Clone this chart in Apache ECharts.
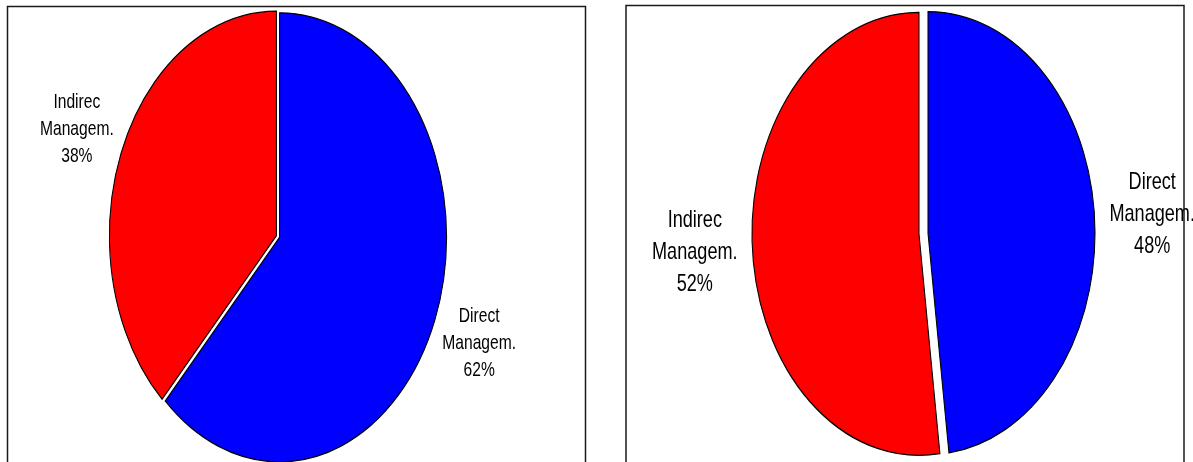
<!DOCTYPE html>
<html>
<head>
<meta charset="utf-8">
<title>Management split</title>
<script src="https://cdn.jsdelivr.net/npm/echarts@6/dist/echarts.min.js"></script>
<style>
  html, body { margin: 0; padding: 0; background: #ffffff; }
  #chart { width: 1193px; height: 462px; }
</style>
</head>
<body>
<div id="chart"></div>
<script>
// Categories shared by both pies
const categories = ['Direct Managem.', 'Indirec Managem.'];
// Shares (%) for the left and right pies, in category order
const leftShares = [62, 38];
const rightShares = [48, 52];

// Slice colours per category
const sliceColors = ['#0000FF', '#FF0000'];

// Layout of each pie: centre, vertical radius, horizontal squeeze,
// slice pull-out, label distance (in radii) and label font
const leftLayout = { cx: 278, cy: 236.5, r: 224.5, sx: 0.744, explode: 2.3, labelDist: 1.285, fontSize: 21, lineHeight: 27 };
const rightLayout = { cx: 923.5, cy: 233.5, r: 221.5, sx: 0.754, explode: 6.0, labelDist: 1.345, fontSize: 24, lineHeight: 32 };

// Builds an oval pie: slices start at 12 o'clock and run clockwise
function ovalPie(values, geo) {
  const total = values.reduce((s, v) => s + v, 0);
  return {
    type: 'custom',
    coordinateSystem: 'none',
    silent: true,
    dimensions: ['share'],
    data: values.map(v => [v]),
    renderItem: function (params, api) {
      const i = params.dataIndex;
      const v = api.value(0);
      let before = 0;
      for (let j = 0; j < i; j++) before += values[j];
      const a0 = before / total * Math.PI * 2;
      const a1 = (before + v) / total * Math.PI * 2;
      const mid = (a0 + a1) / 2;
      const ux = Math.sin(mid);
      const uy = -Math.cos(mid);
      const ox = ux * geo.explode;
      const oy = uy * geo.explode;
      const pct = Math.round(v / total * 100) + '%';
      return {
        type: 'group',
        x: geo.cx,
        y: geo.cy,
        scaleX: geo.sx,
        children: [
          {
            type: 'sector',
            shape: {
              cx: ox, cy: oy, r0: 0, r: geo.r,
              startAngle: a0 - Math.PI / 2,
              endAngle: a1 - Math.PI / 2,
              clockwise: true
            },
            style: { fill: sliceColors[i], stroke: '#000000', lineWidth: 1.4 }
          },
          {
            type: 'text',
            x: ox + ux * geo.r * geo.labelDist,
            y: oy + uy * geo.r * geo.labelDist,
            style: {
              text: categories[i].replace(' ', '\n') + '\n' + pct,
              fill: '#000000',
              fontFamily: '"Liberation Sans", Arial, sans-serif',
              fontSize: geo.fontSize,
              lineHeight: geo.lineHeight,
              align: 'center',
              verticalAlign: 'middle'
            }
          }
        ]
      };
    }
  };
}

const chart = echarts.init(document.getElementById('chart'), null, { renderer: 'canvas' });
chart.setOption({
  animation: false,
  backgroundColor: '#ffffff',
  graphic: [
    {
      type: 'rect',
      shape: { x: 7.5, y: 6.5, width: 578, height: 480 },
      style: { fill: 'none', stroke: '#1a1a1a', lineWidth: 1.5 },
      z: 0
    },
    {
      type: 'rect',
      shape: { x: 626, y: 5.5, width: 558, height: 480 },
      style: { fill: 'none', stroke: '#1a1a1a', lineWidth: 1.5 },
      z: 0
    }
  ],
  series: [ovalPie(leftShares, leftLayout), ovalPie(rightShares, rightLayout)]
});
</script>
</body>
</html>
